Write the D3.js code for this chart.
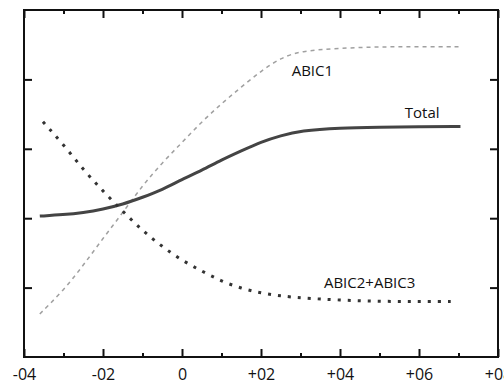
<!DOCTYPE html>
<html>
<head>
<meta charset="utf-8">
<script src="https://cdn.jsdelivr.net/npm/d3@7"></script>
<style>
  body { margin: 0; background: #fff; }
  svg { display: block; }
  text { font-family: "Open Sans", Lato, sans-serif; fill: #111; }
</style>
</head>
<body>
<div id="chart"></div>
<script>
// chart values
const xValues = [-3.6, -3, -2.5, -2, -1.5, -1, -0.5, 0, 0.5, 1, 1.5, 2, 2.5, 3, 4, 5, 6, 7.05];
const totalValues = [2.03, 2.05, 2.08, 2.13, 2.20, 2.30, 2.41, 2.56, 2.69, 2.84, 2.97, 3.10, 3.19, 3.26, 3.30, 3.31, 3.32, 3.32];
const abic1Values = [0.62, 0.96, 1.32, 1.71, 2.08, 2.47, 2.80, 3.09, 3.39, 3.65, 3.89, 4.12, 4.31, 4.41, 4.45, 4.47, 4.47, 4.47];
const abic23X = [-3.52, -3, -2.5, -2, -1.5, -1, -0.5, 0, 0.5, 1, 1.5, 2, 2.5, 3, 4, 5, 6, 6.96];
const abic23Values = [3.39, 3.06, 2.70, 2.39, 2.10, 1.82, 1.59, 1.39, 1.24, 1.09, 0.99, 0.92, 0.88, 0.85, 0.82, 0.80, 0.80, 0.80];
const xMajorTicks = [-4, -2, 0, 2, 4, 6, 8];
const xMinorTicks = [-3, -1, 1, 3, 5, 7];
const xTickLabels = ["-04", "-02", "0", "+02", "+04", "+06", "+08"];
const yTicks = [1, 2, 3, 4];

const width = 504, height = 385;
const margin = { left: 24, right: 6, top: 10, bottom: 28 };

const svg = d3.select("#chart").append("svg")
    .attr("width", width)
    .attr("height", height);

const x = d3.scaleLinear().domain([-4, 8]).range([margin.left, width - margin.right]);
const y = d3.scaleLinear().domain([0, 5]).range([height - margin.bottom, margin.top]);

// axes with inward ticks on all four sides
function styleAxis(g) {
    g.select(".domain").remove();
    g.selectAll(".tick line").attr("stroke", "#111").attr("stroke-width", 2);
}

svg.append("g")
    .attr("transform", `translate(0,${y(0)})`)
    .call(d3.axisBottom(x).tickValues(xMajorTicks).tickSize(-8)
        .tickFormat((d, i) => xTickLabels[i]).tickPadding(12))
    .call(styleAxis)
    .call(g => g.selectAll("text").attr("font-size", 16).attr("fill", "#111"));

svg.append("g")
    .attr("transform", `translate(0,${y(0)})`)
    .call(d3.axisBottom(x).tickValues(xMinorTicks).tickSize(-4).tickFormat(""))
    .call(styleAxis);

svg.append("g")
    .attr("transform", `translate(0,${y(5)})`)
    .call(d3.axisTop(x).tickValues(xMajorTicks).tickSize(-8).tickFormat(""))
    .call(styleAxis);

svg.append("g")
    .attr("transform", `translate(0,${y(5)})`)
    .call(d3.axisTop(x).tickValues(xMinorTicks).tickSize(-4).tickFormat(""))
    .call(styleAxis);

svg.append("g")
    .attr("transform", `translate(${x(-4)},0)`)
    .call(d3.axisLeft(y).tickValues(yTicks).tickSize(-8).tickFormat(""))
    .call(styleAxis);

svg.append("g")
    .attr("transform", `translate(${x(8)},0)`)
    .call(d3.axisRight(y).tickValues(yTicks).tickSize(-8).tickFormat(""))
    .call(styleAxis);

// frame
svg.append("rect")
    .attr("x", x(-4)).attr("y", y(5))
    .attr("width", x(8) - x(-4)).attr("height", y(0) - y(5))
    .attr("fill", "none").attr("stroke", "#111").attr("stroke-width", 2);

const line = d3.line()
    .x(d => x(d[0]))
    .y(d => y(d[1]))
    .curve(d3.curveBasis);

// ABIC1: light dashed
svg.append("path")
    .attr("d", line(d3.zip(xValues, abic1Values)))
    .attr("fill", "none")
    .attr("stroke", "#a0a0a0")
    .attr("stroke-width", 1.5)
    .attr("stroke-dasharray", "4,4");

// Total: thick solid
svg.append("path")
    .attr("d", line(d3.zip(xValues, totalValues)))
    .attr("fill", "none")
    .attr("stroke", "#444")
    .attr("stroke-width", 3);

// ABIC2+ABIC3: square dots
svg.append("path")
    .attr("d", line(d3.zip(abic23X, abic23Values)))
    .attr("fill", "none")
    .attr("stroke", "#333")
    .attr("stroke-width", 3)
    .attr("stroke-dasharray", "3,7");

// curve labels
const labels = [
    { text: "ABIC1", x: 3.3, y: 4.05 },
    { text: "Total", x: 6.08, y: 3.44 },
    { text: "ABIC2+ABIC3", x: 4.75, y: 0.99 }
];
svg.selectAll(".curve-label")
    .data(labels)
    .join("text")
    .attr("class", "curve-label")
    .attr("x", d => x(d.x))
    .attr("y", d => y(d.y))
    .attr("text-anchor", "middle")
    .attr("font-size", 15)
    .attr("font-weight", 500)
    .text(d => d.text);
</script>
</body>
</html>
